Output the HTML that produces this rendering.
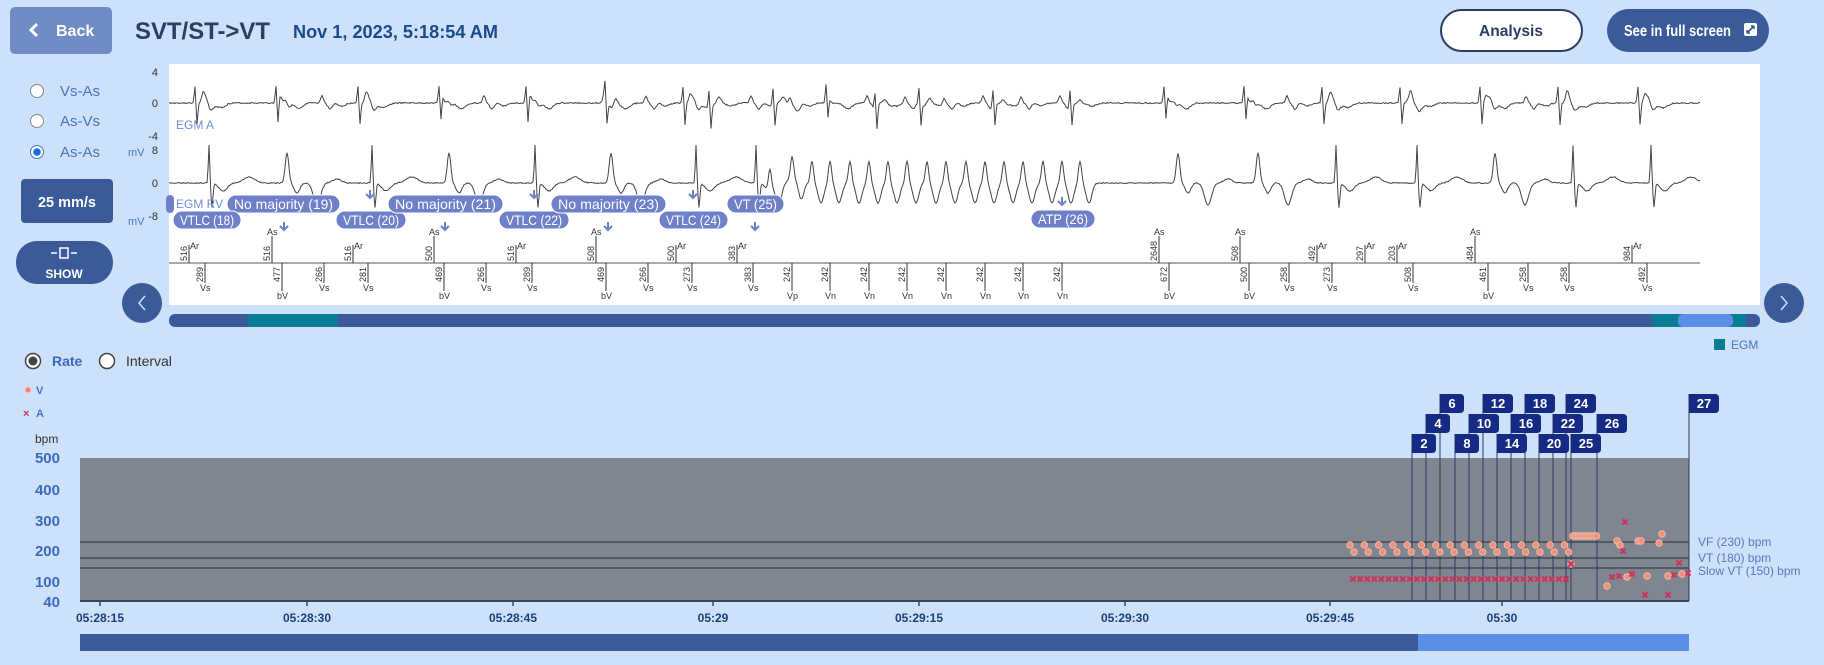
<!DOCTYPE html>
<html><head><meta charset="utf-8">
<style>
html,body{margin:0;padding:0;background:#cde1fa;width:1824px;height:665px;overflow:hidden}
svg{display:block}
text{font-family:"Liberation Sans Narrow","Liberation Sans",sans-serif}
</style></head><body>
<svg id="s" width="1824" height="665" viewBox="0 0 1824 665" xmlns="http://www.w3.org/2000/svg">
<rect width="1824" height="665" fill="#cde1fa"/>
<!-- header -->
<rect x="10" y="7" width="102" height="47" rx="5" fill="#6f8cc4"/>
<path d="M37 24 L31 30 L37 36" stroke="#fff" stroke-width="3" fill="none"/>
<text x="56" y="36" fill="#fff" font-size="16" font-weight="bold">Back</text>
<text x="135" y="39" fill="#2c3e63" font-size="24" font-weight="bold" textLength="135" lengthAdjust="spacingAndGlyphs">SVT/ST-&gt;VT</text>
<text x="293" y="38" fill="#1a4a8a" font-size="18" font-weight="bold" textLength="205" lengthAdjust="spacingAndGlyphs">Nov 1, 2023, 5:18:54 AM</text>
<rect x="1441" y="10" width="141" height="41" rx="20.5" fill="#fff" stroke="#2c3e63" stroke-width="2"/>
<text x="1511" y="36" fill="#2c3e63" font-size="16" font-weight="bold" text-anchor="middle" textLength="64" lengthAdjust="spacingAndGlyphs">Analysis</text>
<rect x="1607" y="9" width="162" height="43" rx="21.5" fill="#3a5a9a"/>
<text x="1624" y="36" fill="#fff" font-size="16" font-weight="bold" textLength="107" lengthAdjust="spacingAndGlyphs">See in full screen</text>
<rect x="1744" y="23" width="13" height="13" rx="2" fill="#fff"/>
<path d="M1747 33 L1754 26 M1747 33 v-3 M1747 33 h3 M1754 26 v3 M1754 26 h-3" stroke="#3a5a9a" stroke-width="1.6" fill="none"/>
<!-- left controls -->
<g font-size="15" fill="#4a74c0">
<circle cx="37" cy="91" r="6.5" fill="#fff" stroke="#888"/>
<text x="60" y="96">Vs-As</text>
<circle cx="37" cy="121" r="6.5" fill="#fff" stroke="#888"/>
<text x="60" y="126">As-Vs</text>
<circle cx="37" cy="152" r="6.5" fill="#fff" stroke="#3a78e0"/>
<circle cx="37" cy="152" r="3.8" fill="#1e6be0"/>
<text x="60" y="157">As-As</text>
</g>
<rect x="21" y="179" width="92" height="44" rx="4" fill="#3a5a9a"/>
<text x="67" y="207" fill="#fff" font-size="15" font-weight="bold" text-anchor="middle" textLength="58" lengthAdjust="spacingAndGlyphs">25 mm/s</text>
<rect x="16" y="241" width="97" height="43" rx="21" fill="#3a5a9a"/>
<rect x="60" y="248" width="8" height="10" fill="none" stroke="#fff" stroke-width="1.5"/>
<path d="M51 253 h6 M77 253 h-6" stroke="#fff" stroke-width="1.5"/>
<text x="64" y="278" fill="#fff" font-size="12" font-weight="bold" text-anchor="middle">SHOW</text>
<!-- EGM panel -->
<rect x="169" y="64" width="1591" height="241" fill="#fff"/>
<g font-size="11" fill="#333" text-anchor="end">
<text x="158" y="76">4</text><text x="158" y="107">0</text><text x="158" y="140">-4</text>
<text x="158" y="154">8</text><text x="158" y="187">0</text><text x="158" y="220">-8</text>
</g>
<text x="128" y="156" font-size="11" fill="#4a74c0">mV</text>
<text x="128" y="225" font-size="11" fill="#4a74c0">mV</text>
<text x="176" y="129" font-size="12" fill="#6b8fd6">EGM A</text>
<g id="waves"></g>
<text x="176" y="208" font-size="12" fill="#6b8fd6">EGM RV</text>
<g id="ann"></g>
<line x1="169" y1="263" x2="1700" y2="263" stroke="#aaa" stroke-width="2"/>
<g id="marks"></g>
<!-- arrows -->
<circle cx="142" cy="303" r="20" fill="#3a5a9a"/>
<path d="M145 296 L139 303 L145 310" stroke="#cde1fa" stroke-width="1.5" fill="none"/>
<circle cx="1784" cy="303" r="20" fill="#3a5a9a"/>
<path d="M1781 296 L1787 303 L1781 310" stroke="#cde1fa" stroke-width="1.5" fill="none"/>
<!-- scroll -->
<rect x="169" y="314" width="1591" height="13" rx="6" fill="#3a5a9a"/>
<rect x="248" y="314" width="90" height="13" fill="#0a7d96"/>
<rect x="1652" y="314" width="94" height="13" fill="#0a7d96"/>
<rect x="1678" y="314" width="55" height="13" rx="5" fill="#5b8ee6"/>
<rect x="1714" y="339" width="11" height="11" fill="#0a7d96"/>
<text x="1731" y="349" font-size="12" fill="#4a74c0">EGM</text>
<!-- rate -->
<circle cx="33" cy="361" r="7.5" fill="#fff" stroke="#444" stroke-width="1.5"/>
<circle cx="33" cy="361" r="4.5" fill="#444"/>
<text x="52" y="366" font-size="14" font-weight="bold" fill="#3a6ac0">Rate</text>
<circle cx="107" cy="361" r="7.5" fill="#fff" stroke="#444" stroke-width="1.5"/>
<text x="126" y="366" font-size="14" fill="#333">Interval</text>
<circle cx="28" cy="390" r="3" fill="#f08070" stroke="#fcc"/>
<text x="36" y="394" font-size="11" fill="#4a74c0" font-weight="bold">V</text>
<text x="23" y="417" font-size="11" fill="#d0305a" font-weight="bold">×</text>
<text x="36" y="417" font-size="11" fill="#4a74c0" font-weight="bold">A</text>
<text x="35" y="443" font-size="12" fill="#333">bpm</text>
<rect x="80" y="458" width="1609" height="143" fill="#80868f"/>
<line x1="80" y1="601" x2="1689" y2="601" stroke="#3a4660" stroke-width="2"/>
<g font-size="15" font-weight="bold" fill="#3a6ac0" text-anchor="end">
<text x="60" y="463">500</text><text x="60" y="495">400</text><text x="60" y="526">300</text><text x="60" y="556">200</text><text x="60" y="587">100</text><text x="60" y="607">40</text>
</g>
<g stroke="#353d4a" stroke-width="1.3">
<line x1="80" y1="542" x2="1689" y2="542"/><line x1="80" y1="558" x2="1689" y2="558"/><line x1="80" y1="568" x2="1689" y2="568"/>
</g>
<g font-size="12" fill="#5a78c0">
<text x="1698" y="546">VF (230) bpm</text><text x="1698" y="562">VT (180) bpm</text><text x="1698" y="575">Slow VT (150) bpm</text>
</g>
<g id="xt" font-size="12" font-weight="bold" fill="#1a3f7a" text-anchor="middle"></g>
<g id="flags"></g>
<g id="pts"></g>
<rect x="80" y="634" width="1609" height="17" fill="#3a5a9a"/>
<rect x="1418" y="634" width="271" height="17" fill="#5b8ee6"/>
</svg>
<script>
const NS="http://www.w3.org/2000/svg";
function el(p,t,a,txt){const e=document.createElementNS(NS,t);for(const k in a)e.setAttribute(k,a[k]);if(txt!==undefined)e.textContent=txt;document.getElementById(p).appendChild(e);return e;}
const g=(d,w)=>Math.exp(-(d/w)*(d/w));
let seed=3;const rnd=()=>{seed=(seed*9301+49297)%233280;return seed/233280;};
const A=[195,276,358,439,526,605,683,709,773,826,875,919,993,1070,1164,1244,1322,1400,1480,1558,1638];
const Vall=[205,282,324,368,444,486,532,606,648,692,753,792,830,869,907,946,985,1023,1062,1169,1249,1289,1332,1413,1488,1528,1569,1647];
let p="";
for(let x=169;x<=1700;x++){let v=0;
 for(const a of A){const d=x-a;v+=-17*g(d,1.1)+22*g(d-2,1.1)-6*g(d-10,3)+3*g(d-22,6);}
 for(const a of Vall){const d=x-a;v+=-7*g(d+2,2)+6*g(d-6,3)+3*g(d-18,5);}
 v+=(rnd()-0.5)*1.2;p+=(x==169?"M":"L")+x+" "+(103+v).toFixed(1);}
el("waves","path",{d:p,fill:"none",stroke:"#444","stroke-width":1});
const Vs=[209,372,535,696,756,1336,1417,1573,1651];
const bV=[287,449,611,1178,1258,1495];
const Vn=[770,792,812,830,850,869,888,907,927,946,966,985,1004,1023,1043,1062,1080];
p="";
for(let x=169;x<=1700;x++){let v=0;
 for(const a of Vs){const d=x-a;v+=-38*g(d,1)+24*g(d-3,1.3)+8*g(d-14,6)-6*g(d-40,8);}
 for(const a of bV){const d=x-a;v+=-30*g(d,2.5)+10*g(d-10,4)+22*g(d-30,5)-4*g(d-50,6);}
 for(const a of Vn){const d=x-a;v+=-22*g(d,2.2)+20*g(d-9,4);}
 v+=(rnd()-0.5)*1;v=Math.max(-38,Math.min(40,v));p+=(x==169?"M":"L")+x+" "+(183+v).toFixed(1);}
el("waves","path",{d:p,fill:"none",stroke:"#444","stroke-width":1});
const pills=[["No majority (19)",227,340,195],["VTLC (18)",173,241,211],["VTLC (20)",336,406,211],["No majority (21)",388,503,195],["VTLC (22)",499,569,211],["No majority (23)",551,666,195],["VTLC (24)",659,728,211],["VT (25)",727,784,195],["ATP (26)",1031,1095,210]];
el("ann","rect",{x:166,y:195,width:8,height:18,rx:4,fill:"#6f7fc8"});
for(const [t,x1,x2,y] of pills){el("ann","rect",{x:x1,y:y,width:x2-x1,height:18,rx:9,fill:"#6f7fc8",stroke:"#fff","stroke-width":1});
 el("ann","text",{x:(x1+x2)/2,y:y+14,"font-size":14,fill:"#fff","text-anchor":"middle",textLength:(x2-x1-14),lengthAdjust:"spacingAndGlyphs"},t);}
const arr=[[284,222],[445,222],[608,222],[755,222],[370,190],[534,190],[693,190],[1062,197]];
for(const [x,y] of arr){el("ann","path",{d:`M${x} ${y} v8 M${x-4} ${y+4} L${x} ${y+8} L${x+4} ${y+4}`,stroke:"#6f7fc8","stroke-width":2,fill:"none"});}
const up=[[189,"516","Ar"],[272,"516","As"],[353,"516","Ar"],[434,"500","As"],[516,"516","Ar"],[596,"508","As"],[676,"500","Ar"],[737,"383","Ar"],[1159,"2648","As"],[1240,"508","As"],[1317,"492","Ar"],[1365,"297","Ar"],[1397,"203","Ar"],[1475,"484","As"],[1632,"984","Ar"]];
for(const [x,n,l] of up){const top=l=="As"?236:245;
 el("marks","line",{x1:x,y1:top,x2:x,y2:263,stroke:"#333","stroke-width":1});
 el("marks","text",{x:l=="As"?x-5:x+1,y:l=="As"?top-1:top+4,"font-size":9,fill:"#333"},l);
 el("marks","text",{x:0,y:0,"font-size":9,fill:"#333",transform:`translate(${x-2},261) rotate(-90)`},n);}
const dn=[[205,"289","Vs"],[282,"477","bV"],[324,"266","Vs"],[368,"281","Vs"],[444,"469","bV"],[486,"266","Vs"],[532,"289","Vs"],[606,"469","bV"],[648,"266","Vs"],[692,"273","Vs"],[753,"383","Vs"],[792,"242","Vp"],[830,"242","Vn"],[869,"242","Vn"],[907,"242","Vn"],[946,"242","Vn"],[985,"242","Vn"],[1023,"242","Vn"],[1062,"242","Vn"],[1169,"672","bV"],[1249,"500","bV"],[1289,"258","Vs"],[1332,"273","Vs"],[1413,"508","Vs"],[1488,"461","bV"],[1528,"258","Vs"],[1569,"258","Vs"],[1647,"492","Vs"]];
for(const [x,n,l] of dn){const bot=l=="Vs"?283:291;
 el("marks","line",{x1:x,y1:263,x2:x,y2:bot,stroke:"#333","stroke-width":1});
 el("marks","text",{x:x-5,y:bot+8,"font-size":9,fill:"#333"},l);
 el("marks","text",{x:0,y:0,"font-size":9,fill:"#333",transform:`translate(${x-2},${n.length>3?285:282}) rotate(-90)`},n);}
const xt=[[100,"05:28:15"],[307,"05:28:30"],[513,"05:28:45"],[713,"05:29"],[919,"05:29:15"],[1125,"05:29:30"],[1330,"05:29:45"],[1502,"05:30"]];
for(const [x,t] of xt){el("xt","line",{x1:x,y1:601,x2:x,y2:606,stroke:"#3a4660","stroke-width":1.5});el("xt","text",{x:x,y:622},t);}
const fl=[["6",1440,394],["12",1483,394],["18",1525,394],["24",1566,394],["27",1689,394],["4",1426,414],["10",1469,414],["16",1511,414],["22",1553,414],["26",1597,414],["2",1412,434],["8",1455,434],["14",1497,434],["20",1539,434],["25",1571,434]];
for(const [t,x,y] of fl){el("flags","line",{x1:x,y1:y,x2:x,y2:601,stroke:"#2e3a58","stroke-width":1});}
for(const [t,x,y] of fl){const w=t.length>1?30:24;
 el("flags","path",{d:`M${x} ${y} h${w-4} q4 0 4 4 v11 q0 4 -4 4 h${-(w-4)} z`,fill:"#142a84"});
 el("flags","text",{x:x+w/2,y:y+14,"font-size":13,"font-weight":"bold",fill:"#fff","text-anchor":"middle","font-family":"Liberation Sans, sans-serif"},t);}
function V(x,y){el("pts","circle",{cx:x,cy:y,r:3.2,fill:"#f0907a",stroke:"#f7b8a8","stroke-width":1});}
function X(x,y){el("pts","path",{d:`M${x-2.5} ${y-2.5} L${x+2.5} ${y+2.5} M${x+2.5} ${y-2.5} L${x-2.5} ${y+2.5}`,stroke:"#d0305a","stroke-width":2});}
for(let x=1350;x<=1566;x+=14.3){V(x,545);V(x+4,552);}
for(let x=1353;x<=1566;x+=7.1){X(x,579);}
for(let x=1573;x<=1598;x+=2.6){V(x,536);}
[[1617,541],[1620,545],[1638,541],[1641,541],[1662,534],[1659,543],[1571,564],[1607,586],[1647,576],[1668,576],[1682,574],[1627,577]].forEach(a=>V(a[0],a[1]));
[[1625,522],[1623,551],[1571,564],[1612,577],[1619,576],[1632,574],[1645,595],[1668,595],[1674,575],[1688,573],[1679,563]].forEach(a=>X(a[0],a[1]));
</script>
</body></html>
